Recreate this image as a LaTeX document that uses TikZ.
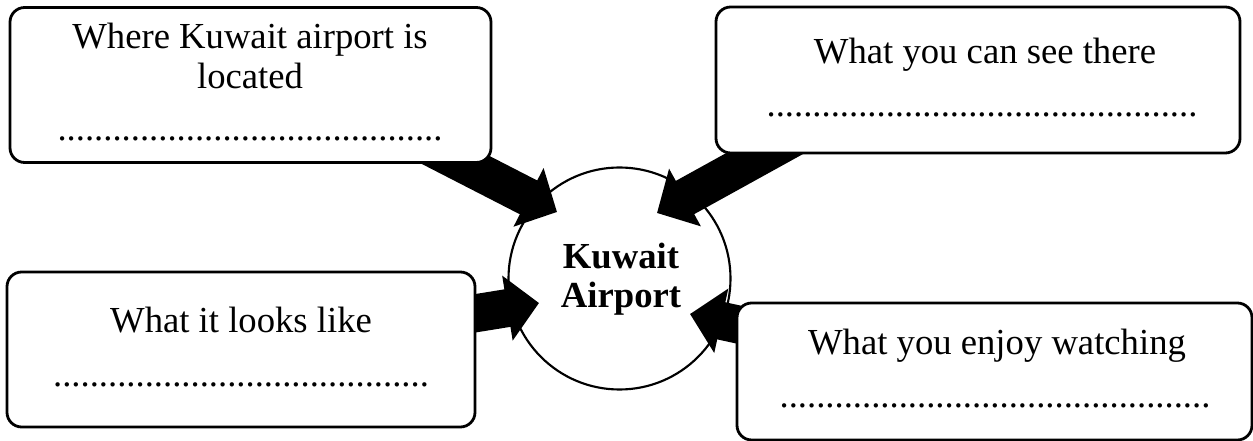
\documentclass[tikz,border=0pt]{standalone}
\usepackage{fontspec}
\setmainfont{Liberation Serif}
\usetikzlibrary{arrows.meta}
\newcommand{\dotsrow}[1]{\foreach \i in {1,...,#1}{.}}
\begin{document}
\begin{tikzpicture}[x=0.75pt,y=-0.75pt,
  box/.style={draw=black, line width=2.1pt, fill=white, rounded corners=11pt, inner sep=0pt},
  lbl/.style={anchor=base, inner sep=0pt, font=\fontsize{27.5}{33}\selectfont},
  hub/.style={draw=black, line width=1.6pt, circle, inner sep=0pt, minimum size=166.5pt},
  blockarrow/.style={line width=28.5pt, -{Triangle[length=24pt, width=48pt]}}]
\useasboundingbox (0,0) rectangle (1253,441);
% hub
\node[hub] (c) at (619.5,278.5) {};
\node[lbl, font=\bfseries\fontsize{27.5}{33}\selectfont] (k1) at (621,269) {Kuwait};
\node[lbl, font=\bfseries\fontsize{27.5}{33}\selectfont] (k2) at (621,308) {Airport};
% arrow coordinates
\coordinate (tls) at (407,135);
\coordinate (tlt) at (557,212);
\coordinate (trs) at (800,134);
\coordinate (trt) at (657,213);
\coordinate (bls) at (440,319);
\coordinate (blt) at (539,303);
\coordinate (brs) at (800,338);
\coordinate (brt) at (690,314);
\draw[blockarrow] (tls) -- (tlt);
\draw[blockarrow] (trs) -- (trt);
\draw[blockarrow] (bls) -- (blt);
\draw[blockarrow] (brs) -- (brt);
% boxes
\node[box, minimum width=360.75pt, minimum height=116.25pt] (tl) at (250.5,85) {};
\node[box, minimum width=393pt, minimum height=109.5pt] (tr) at (978,80) {};
\node[box, minimum width=351pt, minimum height=116.25pt] (bl) at (241,349.5) {};
\node[box, minimum width=386.25pt, minimum height=102.75pt] (br) at (994.5,371.5) {};
% texts
\node[lbl] (tl1) at (250,49) {Where Kuwait airport is};
\node[lbl] (tl2) at (250,89) {located};
\node[lbl] (tl3) at (250,141) {\dotsrow{42}};
\node[lbl] (tr1) at (985,64) {What you can see there};
\node[lbl] (tr2) at (982,117) {\dotsrow{47}};
\node[lbl] (bl1) at (241,333) {What it looks like};
\node[lbl] (bl2) at (241,387) {\dotsrow{41}};
\node[lbl] (br1) at (997,355) {What you enjoy watching};
\node[lbl] (br2) at (995,408) {\dotsrow{47}};
\end{tikzpicture}
\end{document}
